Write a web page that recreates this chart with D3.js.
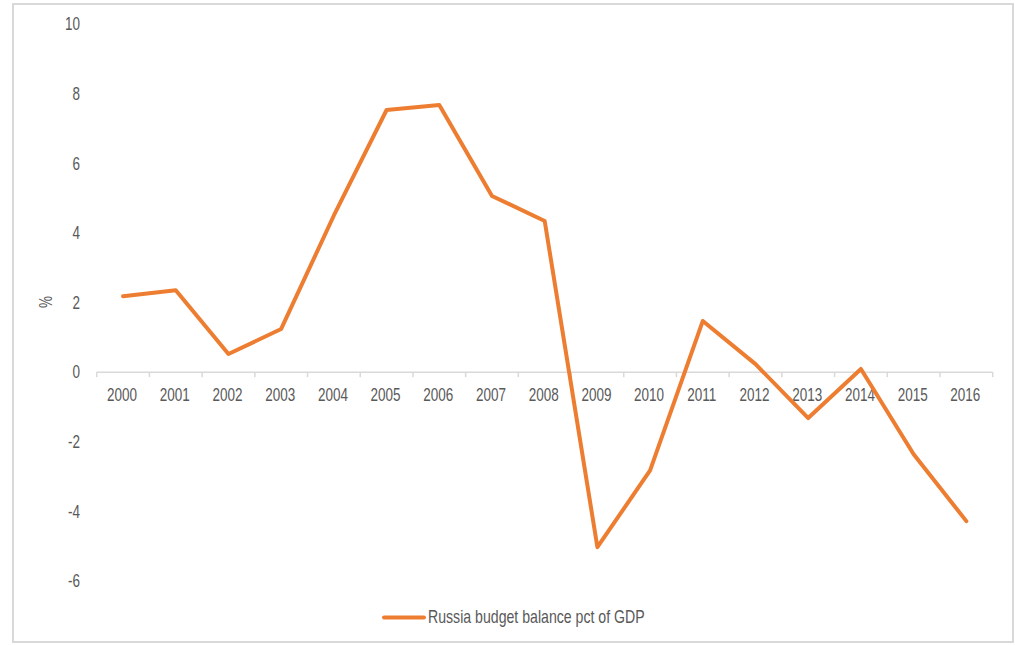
<!DOCTYPE html>
<html>
<head>
<meta charset="utf-8">
<script src="https://cdn.jsdelivr.net/npm/d3@7"></script>
<style>
  html, body { margin: 0; padding: 0; background: #fff; }
  svg { display: block; }
  text { font-family: "Liberation Sans", Arial, sans-serif; fill: #595959; }
</style>
</head>
<body>
<svg id="chart" width="1015" height="645"></svg>
<script>
const years = ["2000","2001","2002","2003","2004","2005","2006","2007","2008","2009","2010","2011","2012","2013","2014","2015","2016"];
const balance = [2.18, 2.35, 0.52, 1.24, 4.5, 7.53, 7.67, 5.06, 4.34, -5.03, -2.82, 1.47, 0.23, -1.32, 0.09, -2.36, -4.28];
const yTicks = [-6, -4, -2, 0, 2, 4, 6, 8, 10];
const seriesName = "Russia budget balance pct of GDP";
const yTitle = "%";

const svg = d3.select("#chart");
const fs = 18;

// outer border
svg.append("rect")
  .attr("x", 13).attr("y", 4).attr("width", 1000).attr("height", 638)
  .attr("fill", "none").attr("stroke", "#d9d9d9").attr("stroke-width", 2);

const x = d3.scaleBand().domain(years).range([96.7, 992.7]).padding(0);
const y = d3.scaleLinear().domain([-6, 10]).range([581, 24]);

function ctext(px, py, str, anchor, rot, sx) {
  sx = sx || 0.75;
  const g = svg.append("g").attr("transform", `translate(${px},${py})` + (rot ? ` rotate(${rot})` : "") + ` scale(${sx},1)`);
  g.append("text").attr("x", 0).attr("y", 0).attr("dy", "0.35em")
    .attr("text-anchor", anchor).attr("font-size", fs).text(str);
  return g;
}

// y tick labels
yTicks.forEach(t => ctext(80, y(t), String(t), "end"));

// y title
ctext(46, 302, yTitle, "middle", -90);

// x axis line + ticks
const axisY = y(0);
svg.append("line").attr("x1", x.range()[0]).attr("x2", x.range()[1])
  .attr("y1", axisY).attr("y2", axisY).attr("stroke", "#d9d9d9").attr("stroke-width", 1.5);
const bounds = years.map(d => x(d)).concat([x.range()[1]]);
bounds.forEach(b => {
  svg.append("line").attr("x1", b).attr("x2", b).attr("y1", axisY).attr("y2", axisY + 5)
    .attr("stroke", "#d9d9d9").attr("stroke-width", 1.5);
});
years.forEach(d => ctext(x(d) + x.bandwidth() / 2 - 1, 395, d, "middle"));

// line
const line = d3.line()
  .x((d, i) => x(years[i]) + x.bandwidth() / 2)
  .y(d => y(d));
svg.append("path").datum(balance)
  .attr("d", line).attr("fill", "none").attr("stroke", "#ED7D31")
  .attr("stroke-width", 4).attr("stroke-linejoin", "round").attr("stroke-linecap", "round");

// legend
svg.append("line").attr("x1", 384).attr("x2", 424).attr("y1", 617.5).attr("y2", 617.5)
  .attr("stroke", "#ED7D31").attr("stroke-width", 4).attr("stroke-linecap", "round");
ctext(428, 617, seriesName, "start", 0, 0.785);
</script>
</body>
</html>
